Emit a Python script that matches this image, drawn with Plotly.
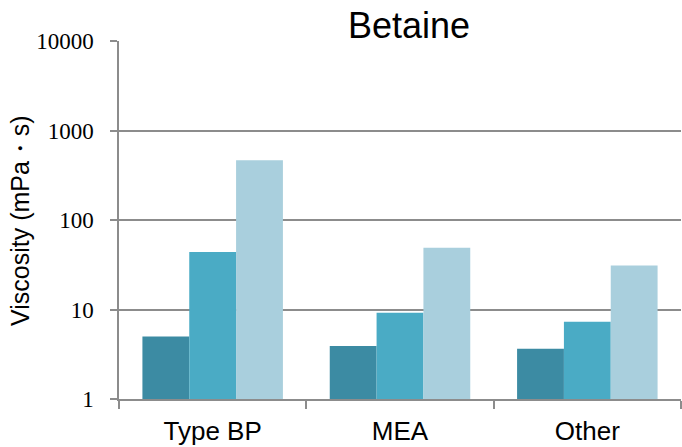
import plotly.graph_objects as go

categories = ["Type BP", "MEA", "Other"]
series_a = [5.0, 3.9, 3.65]
series_b = [44, 9.2, 7.3]
series_c = [464, 49, 31]
colors = ["#3c8ba3", "#4aabc5", "#a9cfdd"]

W, H = 682, 447
L, R, T, B = 119, 1, 41, 48
PW, PH = W - L - R, H - T - B


def px_x(x):
    return (x - L) / PW


def px_y(y):
    return (H - B - y) / PH


fig = go.Figure()
for vals, c in zip([series_a, series_b, series_c], colors):
    fig.add_trace(go.Bar(x=categories, y=vals, marker=dict(color=c, line=dict(width=0)),
                         showlegend=False))

fig.update_layout(
    width=W, height=H,
    margin=dict(l=L, r=R, t=T, b=B, autoexpand=False),
    paper_bgcolor="white", plot_bgcolor="white",
    barmode="group", bargap=0.25, bargroupgap=0,
    xaxis=dict(showline=True, linecolor="#8c8c8c", linewidth=1.5,
               ticks="outside", tickson="boundaries", ticklen=8, tickcolor="#8c8c8c",
               tickwidth=1.5, automargin=False, ticklabelstandoff=8,
               tickfont=dict(family="Liberation Sans, Arial", size=26, color="black"),
               showgrid=False, zeroline=False),
    yaxis=dict(type="log", range=[0, 4], showline=True, linecolor="#8c8c8c", linewidth=1.5,
               ticks="outside", ticklen=7, tickcolor="#8c8c8c", tickwidth=1.5,
               automargin=False, ticklabelstandoff=12,
               tickvals=[1, 10, 100, 1000, 10000], ticktext=["1", "10", "100", "1000", "10000"],
               tickfont=dict(family="Liberation Serif, Times New Roman", size=23, color="black"),
               showgrid=True, gridcolor="#8c8c8c", gridwidth=1.5, zeroline=False),
    annotations=[
        dict(text="Betaine", x=px_x(409), y=px_y(25), xref="paper", yref="paper",
             xanchor="center", yanchor="middle", showarrow=False,
             font=dict(family="Liberation Sans, Arial", size=36, color="black")),
        dict(text="Viscosity (mPa・s)", x=px_x(20), y=px_y(221),
             xref="paper", yref="paper", xanchor="center", yanchor="middle",
             textangle=-90, showarrow=False,
             font=dict(family="Liberation Sans, Arial", size=25, color="black")),
    ],
)

fig.write_html("out.html", config={"displayModeBar": False},
               post_script="document.body.style.margin='0';")
